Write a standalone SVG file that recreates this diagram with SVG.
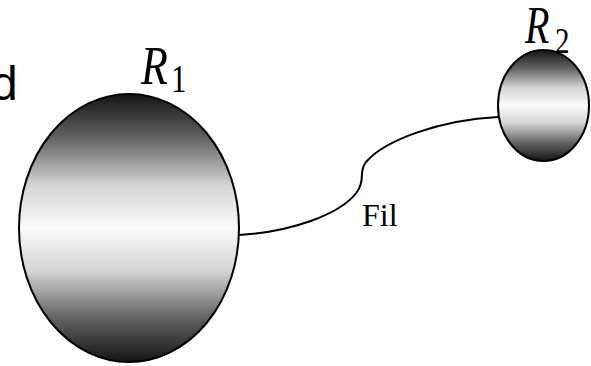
<svg xmlns="http://www.w3.org/2000/svg" width="591" height="366" viewBox="0 0 591 366">
<defs>
<linearGradient id="g" x1="0" y1="0" x2="0" y2="1">
<stop offset="0" stop-color="#141414"/>
<stop offset="0.16" stop-color="#606060"/>
<stop offset="0.34" stop-color="#d4d4d4"/>
<stop offset="0.5" stop-color="#fbfbfb"/>
<stop offset="0.66" stop-color="#d4d4d4"/>
<stop offset="0.84" stop-color="#606060"/>
<stop offset="1" stop-color="#141414"/>
</linearGradient>
<style>
.ball{fill:url(#g);stroke:#000;stroke-width:2}
.wire{fill:none;stroke:#000;stroke-width:2}
</style>
</defs>
<g id="connectors">
<path class="wire" d="M239,235 C290,232 340,215 357,192 C366,180 358,172 366,162 C385,140 440,120 498,117"/>
</g>
<g id="R1">
<ellipse class="ball" cx="129" cy="228" rx="110" ry="134"/>
<text font-family="Liberation Serif, Times New Roman, serif" font-style="italic" font-size="44" fill="#000" transform="translate(141,84) scale(1,1.27)">R</text>
<text font-family="Liberation Serif, Times New Roman, serif" font-size="31" fill="#000" transform="translate(171,92) scale(1,1.27)">1</text>
</g>
<g id="R2">
<ellipse class="ball" cx="543.5" cy="105.5" rx="45.5" ry="55.5"/>
<text font-family="Liberation Serif, Times New Roman, serif" font-style="italic" font-size="40" fill="#000" transform="translate(525,43) scale(1,1.3)">R</text>
<text font-family="Liberation Serif, Times New Roman, serif" font-size="29" fill="#000" transform="translate(555,53) scale(1,1.27)">2</text>
</g>
<g id="fil">
<text font-family="Liberation Serif, Times New Roman, serif" font-size="32" fill="#000" x="362" y="226">Fil</text>
</g>
<text x="-9" y="100" font-family="Liberation Sans, Arial, sans-serif" font-size="48" fill="#000">d</text>
</svg>
